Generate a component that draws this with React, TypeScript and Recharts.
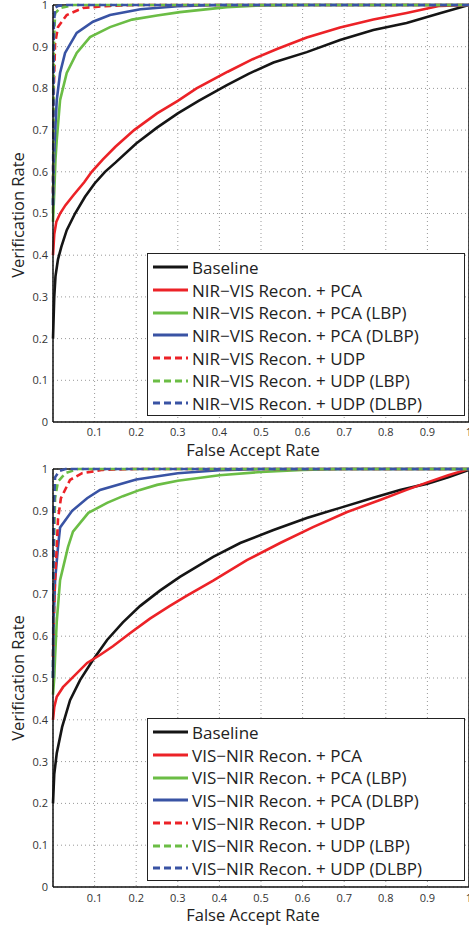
import { LineChart, Line, XAxis, YAxis, CartesianGrid, ReferenceLine, Legend } from "recharts";

type Pt = [number, number];

const FONT = "'Open Sans', 'DejaVu Sans', sans-serif";

const xTicks = [0.1, 0.2, 0.3, 0.4, 0.5, 0.6, 0.7, 0.8, 0.9, 1];
const yTicks = [0, 0.1, 0.2, 0.3, 0.4, 0.5, 0.6, 0.7, 0.8, 0.9, 1];

const topNames = [
  "Baseline",
  "NIR\u2212VIS Recon. + PCA",
  "NIR\u2212VIS Recon. + PCA (LBP)",
  "NIR\u2212VIS Recon. + PCA (DLBP)",
  "NIR\u2212VIS Recon. + UDP",
  "NIR\u2212VIS Recon. + UDP (LBP)",
  "NIR\u2212VIS Recon. + UDP (DLBP)",
];
const bottomNames = [
  "Baseline",
  "VIS\u2212NIR Recon. + PCA",
  "VIS\u2212NIR Recon. + PCA (LBP)",
  "VIS\u2212NIR Recon. + PCA (DLBP)",
  "VIS\u2212NIR Recon. + UDP",
  "VIS\u2212NIR Recon. + UDP (LBP)",
  "VIS\u2212NIR Recon. + UDP (DLBP)",
];

// top panel: NIR -> VIS  (false accept rate, verification rate)
const topBaseline: Pt[] = [[0, 0.2], [0.003, 0.3], [0.006, 0.35], [0.012, 0.39], [0.02, 0.42], [0.033, 0.46], [0.053, 0.5], [0.077, 0.54], [0.1, 0.572], [0.125, 0.6], [0.15, 0.622], [0.2, 0.668], [0.25, 0.706], [0.3, 0.74], [0.35, 0.77], [0.418, 0.808], [0.47, 0.835], [0.53, 0.862], [0.61, 0.887], [0.69, 0.916], [0.77, 0.94], [0.85, 0.957], [0.93, 0.98], [1, 1]];
const topPca: Pt[] = [[0, 0.4], [0.003, 0.45], [0.008, 0.48], [0.017, 0.5], [0.03, 0.52], [0.05, 0.545], [0.075, 0.575], [0.093, 0.6], [0.12, 0.63], [0.15, 0.66], [0.195, 0.7], [0.25, 0.74], [0.3, 0.77], [0.345, 0.8], [0.42, 0.84], [0.48, 0.87], [0.54, 0.895], [0.61, 0.922], [0.69, 0.946], [0.77, 0.965], [0.85, 0.981], [0.93, 0.998], [1, 1]];
const topPcaLbp: Pt[] = [[0, 0.48], [0.003, 0.55], [0.006, 0.63], [0.009, 0.676], [0.017, 0.772], [0.033, 0.837], [0.057, 0.885], [0.089, 0.923], [0.137, 0.947], [0.19, 0.965], [0.25, 0.975], [0.305, 0.983], [0.418, 0.995], [0.5, 0.999], [0.6, 1], [1, 1]];
const topPcaDlbp: Pt[] = [[0, 0.52], [0.002, 0.62], [0.005, 0.693], [0.009, 0.772], [0.017, 0.837], [0.029, 0.885], [0.057, 0.933], [0.096, 0.96], [0.137, 0.976], [0.21, 0.99], [0.3, 0.997], [0.4, 1], [1, 1]];
const topUdp: Pt[] = [[0, 0.55], [0.002, 0.8], [0.005, 0.908], [0.012, 0.947], [0.033, 0.976], [0.072, 0.993], [0.137, 0.998], [0.2, 1], [1, 1]];
const topUdpLbp: Pt[] = [[0, 0.5], [0.002, 0.9], [0.005, 0.98], [0.017, 0.993], [0.05, 1], [1, 1]];
const topUdpDlbp: Pt[] = [[0, 0.52], [0.002, 0.95], [0.005, 0.993], [0.012, 0.998], [0.03, 1], [1, 1]];

// bottom panel: VIS -> NIR
const botBaseline: Pt[] = [[0, 0.2], [0.003, 0.27], [0.009, 0.32], [0.022, 0.383], [0.041, 0.447], [0.065, 0.495], [0.096, 0.543], [0.13, 0.591], [0.168, 0.633], [0.209, 0.672], [0.257, 0.709], [0.305, 0.742], [0.385, 0.79], [0.45, 0.823], [0.53, 0.854], [0.61, 0.883], [0.69, 0.907], [0.77, 0.931], [0.834, 0.95], [0.9, 0.965], [0.95, 0.98], [1, 0.998]];
const botPca: Pt[] = [[0, 0.4], [0.003, 0.43], [0.009, 0.455], [0.024, 0.478], [0.048, 0.502], [0.082, 0.536], [0.113, 0.555], [0.144, 0.576], [0.185, 0.607], [0.233, 0.642], [0.28, 0.672], [0.322, 0.697], [0.385, 0.733], [0.466, 0.782], [0.546, 0.823], [0.625, 0.861], [0.707, 0.897], [0.786, 0.926], [0.85, 0.95], [0.9, 0.968], [0.95, 0.985], [1, 1]];
const botPcaLbp: Pt[] = [[0, 0.46], [0.003, 0.5], [0.005, 0.55], [0.009, 0.635], [0.017, 0.734], [0.036, 0.813], [0.048, 0.85], [0.085, 0.895], [0.13, 0.919], [0.168, 0.935], [0.209, 0.95], [0.25, 0.962], [0.3, 0.972], [0.4, 0.985], [0.5, 0.993], [0.6, 0.998], [0.7, 1], [1, 1]];
const botPcaDlbp: Pt[] = [[0, 0.5], [0.002, 0.65], [0.005, 0.734], [0.012, 0.813], [0.017, 0.86], [0.046, 0.9], [0.082, 0.93], [0.113, 0.95], [0.2, 0.975], [0.3, 0.99], [0.4, 0.997], [0.5, 1], [1, 1]];
const botUdp: Pt[] = [[0, 0.55], [0.003, 0.68], [0.005, 0.734], [0.009, 0.813], [0.012, 0.88], [0.019, 0.93], [0.041, 0.974], [0.07, 0.99], [0.12, 0.998], [0.2, 1], [1, 1]];
const botUdpLbp: Pt[] = [[0, 0.5], [0.002, 0.8], [0.005, 0.93], [0.012, 0.97], [0.03, 0.99], [0.06, 1], [1, 1]];
const botUdpDlbp: Pt[] = [[0, 0.5], [0.002, 0.9], [0.005, 0.98], [0.015, 0.995], [0.03, 1], [1, 1]];

const styles = [
  { color: "#151515", dash: undefined },
  { color: "#ec2227", dash: undefined },
  { color: "#6bbd45", dash: undefined },
  { color: "#3953a4", dash: undefined },
  { color: "#ec2227", dash: "7 4" },
  { color: "#6bbd45", dash: "7 4" },
  { color: "#3953a4", dash: "7 4" },
];

const toRows = (pts: Pt[]) => pts.map(([x, y]) => ({ x, y }));

const LegendBox = ({ names }: { names: string[] }) => (
  <div
    style={{
      width: 318,
      height: 163,
      boxSizing: "border-box",
      border: "1.5px solid #222",
      background: "#fff",
      paddingTop: 2,
      fontFamily: FONT,
      fontSize: 17,
      color: "#222",
    }}
  >
    {names.map((n, i) => (
      <div key={n} style={{ height: 22.7, display: "flex", alignItems: "center", whiteSpace: "nowrap" }}>
        <svg width={44} height={10}>
          <line x1={5} x2={40} y1={5} y2={5} stroke={styles[i].color} strokeWidth={3} strokeDasharray={styles[i].dash} />
        </svg>
        <span>{n}</span>
      </div>
    ))}
  </div>
);

// titles take their own coords; prop names chosen so Label's injected props don't clash
const XTitle = ({ ty }: { ty: number }) => (
  <text x={253} y={ty} textAnchor="middle" fontFamily={FONT} fontSize={16.5} fill="#222">
    False Accept Rate
  </text>
);

const YTitle = ({ cy }: { cy: number }) => (
  <text x={17} y={cy} transform={`rotate(-90, 17, ${cy})`} textAnchor="middle" dominantBaseline="central" fontFamily={FONT} fontSize={16.5} fill="#222">
    Verification Rate
  </text>
);

interface PanelProps {
  series: Pt[][];
  names: string[];
  xAxisHeight: number;
  xTickMargin: number;
  xTitleY: number;
  yTitleY: number;
  legendTop: number;
}

const Panel = ({ series, names, xAxisHeight, xTickMargin, xTitleY, yTitleY, legendTop }: PanelProps) => (
  <LineChart width={469} height={464} margin={{ top: 5, right: 0, bottom: 0, left: 0 }}>
    <CartesianGrid stroke="#999" strokeDasharray="1 3" />
    <XAxis
      type="number"
      dataKey="x"
      domain={[0, 1]}
      ticks={xTicks}
      interval={0}
      height={xAxisHeight}
      tickSize={0}
      tickMargin={xTickMargin}
      tick={{ fill: "#333", fontSize: 11, fontFamily: FONT }}
      stroke="#111"
      strokeWidth={1.5}
      label={<XTitle ty={xTitleY} />}
    />
    <YAxis
      type="number"
      dataKey="y"
      domain={[0, 1]}
      ticks={yTicks}
      interval={0}
      width={53}
      tickSize={0}
      tickMargin={5}
      tick={{ fill: "#333", fontSize: 11, fontFamily: FONT }}
      stroke="#111"
      strokeWidth={1.5}
      label={<YTitle cy={yTitleY} />}
    />
    <ReferenceLine y={1} stroke="#111" strokeWidth={1.5} />
    <ReferenceLine x={1} stroke="#111" strokeWidth={1.5} />
    {series.map((pts, i) => (
      <Line
        key={names[i]}
        data={toRows(pts)}
        dataKey="y"
        type="linear"
        stroke={styles[i].color}
        strokeWidth={2.6}
        strokeDasharray={styles[i].dash}
        dot={false}
        activeDot={false}
        isAnimationActive={false}
      />
    ))}
    <Legend
      verticalAlign="middle"
      align="center"
      layout="horizontal"
      wrapperStyle={{ left: 147, top: legendTop, width: 318 }}
      content={() => <LegendBox names={names} />}
    />
  </LineChart>
);

export default function App() {
  return (
    <div style={{ position: "absolute", left: 0, top: 0, width: 469, height: 928, background: "#fff" }}>
      <Panel
        series={[topBaseline, topPca, topPcaLbp, topPcaDlbp, topUdp, topUdpLbp, topUdpDlbp]}
        names={topNames}
        xAxisHeight={42}
        xTickMargin={6}
        xTitleY={456}
        yTitleY={215}
        legendTop={253}
      />
      <Panel
        series={[botBaseline, botPca, botPcaLbp, botPcaDlbp, botUdp, botUdpLbp, botUdpDlbp]}
        names={bottomNames}
        xAxisHeight={41}
        xTickMargin={7}
        xTitleY={457}
        yTitleY={214}
        legendTop={254}
      />
    </div>
  );
}
